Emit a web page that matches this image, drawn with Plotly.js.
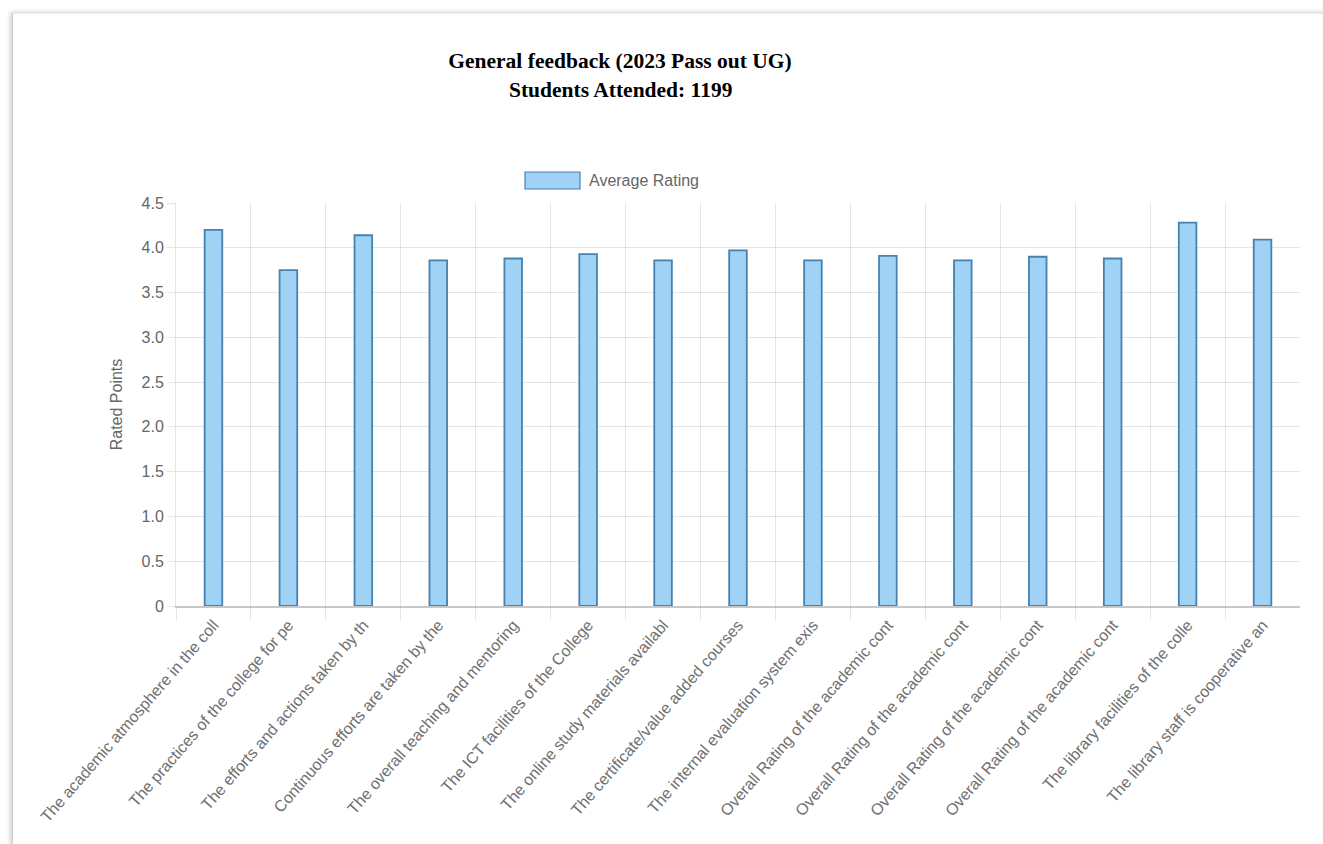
<!DOCTYPE html>
<html>
<head>
<meta charset="utf-8">
<script src="https://cdn.plot.ly/plotly-3.0.1.min.js"></script>
<style>
  html, body { margin: 0; padding: 0; background: #ffffff; overflow: hidden; }
  #chart { position: absolute; left: 0; top: 0; width: 1323px; height: 844px; }
  #frame { position: absolute; left: 12px; top: 13px; width: 1330px; height: 850px;
           border-left: 1px solid #cfcfcf; border-top: 1px solid #ececec;
           box-shadow: -2px -1px 4px rgba(0,0,0,0.18); pointer-events: none; }
</style>
</head>
<body>
<div id="chart"></div>
<div id="frame"></div>
<script>
// ---- data ----
const categories = [
  "The academic atmosphere in the coll",
  "The practices of the college for pe",
  "The efforts and actions taken by th",
  "Continuous efforts are taken by the",
  "The overall teaching and mentoring",
  "The ICT facilities of the College",
  "The online study materials availabl",
  "The certificate/value added courses",
  "The internal evaluation system exis",
  "Overall Rating of the academic cont",
  "Overall Rating of the academic cont",
  "Overall Rating of the academic cont",
  "Overall Rating of the academic cont",
  "The library facilities of the colle",
  "The library staff is cooperative an"
];
const averageRating = [4.20, 3.75, 4.14, 3.86, 3.88, 3.93, 3.86, 3.97, 3.86, 3.91, 3.86, 3.90, 3.88, 4.28, 4.09];
const yTickValues = [0, 0.5, 1.0, 1.5, 2.0, 2.5, 3.0, 3.5, 4.0, 4.5];
const yTickLabels = ["0", "0.5", "1.0", "1.5", "2.0", "2.5", "3.0", "3.5", "4.0", "4.5"];
const seriesName = "Average Rating";
const titleLine1 = "General feedback (2023 Pass out UG)";
const titleLine2 = "Students Attended: 1199";
const yAxisTitle = "Rated Points";

// ---- derived positions (index per category) ----
const idx = categories.map((_, i) => i);
const boundaries = categories.slice(0, -1).map((_, i) => i - 0.5);
boundaries.push(categories.length - 1.5);

// layout geometry helpers (pixels -> paper)
const W = 1323, H = 844;
const mL = 176, mR = 23, mT = 203, mB = 238;
const pw = W - mL - mR, ph = H - mT - mB;
const px = x => (x - mL) / pw;
const py = y => (H - mB - y) / ph;

const grid = "rgba(0,0,0,0.1)";
const txt = "#666666";
const sans = "Liberation Sans, Arial, sans-serif";
const serif = "Liberation Serif, Times New Roman, serif";

const trace = {
  type: "bar",
  x: idx,
  y: averageRating,
  name: seriesName,
  width: 0.235,
  marker: { color: "#a0d2f6", line: { color: "#4682b0", width: 1.8 } },
  showlegend: false,
  hoverinfo: "y"
};

const layout = {
  width: W, height: H,
  margin: { l: mL, r: mR, t: mT, b: mB, pad: 0 },
  paper_bgcolor: "rgba(0,0,0,0)",
  plot_bgcolor: "rgba(0,0,0,0)",
  showlegend: false,
  title: {
    text: "<b>" + titleLine1 + "</b>",
    font: { family: serif, size: 21.5, color: "#000000" },
    xref: "container", yref: "container",
    x: 620 / W, y: 1 - 60 / H, xanchor: "center", yanchor: "middle"
  },
  annotations: [
    { text: "<b>" + titleLine2 + "</b>", xref: "paper", yref: "paper",
      x: px(620), y: py(90), xanchor: "center", yanchor: "middle", showarrow: false,
      font: { family: serif, size: 21.5, color: "#000000" } },
    { text: seriesName, xref: "paper", yref: "paper",
      x: px(587), y: py(181), xanchor: "left", yanchor: "middle", showarrow: false,
      font: { family: sans, size: 16, color: txt } }
  ],
  shapes: [
    { type: "rect", xref: "paper", yref: "paper",
      x0: px(525), x1: px(580), y0: py(189), y1: py(172),
      fillcolor: "#a0d2f6", line: { color: "#4682b0", width: 1.2 } }
  ],
  xaxis: {
    type: "linear",
    range: [-0.5, categories.length - 0.5],
    tickmode: "array", tickvals: idx, ticktext: categories,
    tickangle: -49,
    ticks: "outside", ticklen: 2, tickcolor: "rgba(0,0,0,0)",
    tickfont: { family: sans, size: 16, color: "#707070" },
    showgrid: false, zeroline: false,
    showline: true, linecolor: "#c8c8c8", linewidth: 1.5,
    fixedrange: true
  },
  xaxis2: {
    overlaying: "x", side: "bottom",
    range: [-0.5, categories.length - 0.5],
    tickmode: "array", tickvals: boundaries,
    showticklabels: false,
    ticks: "outside", ticklen: 13, tickcolor: grid, tickwidth: 1,
    showgrid: true, gridcolor: grid, gridwidth: 1,
    zeroline: false, showline: false, fixedrange: true
  },
  yaxis: {
    range: [0, 4.5],
    tickmode: "array", tickvals: yTickValues, ticktext: yTickLabels,
    ticks: "outside", ticklen: 8, tickcolor: grid,
    tickfont: { family: sans, size: 16, color: txt },
    showgrid: true, gridcolor: grid, gridwidth: 1,
    zeroline: false,
    showline: true, linecolor: grid, linewidth: 1,
    title: { text: yAxisTitle, font: { family: sans, size: 16, color: txt }, standoff: 14 },
    fixedrange: true
  },
  bargap: 0
};

const ghost = { type: "scatter", x: [-0.5], y: [0], xaxis: "x2", yaxis: "y",
  mode: "markers", marker: { opacity: 0 }, hoverinfo: "skip", showlegend: false };

Plotly.newPlot("chart", [ghost, trace], layout, { displayModeBar: false, staticPlot: true });
</script>
</body>
</html>
